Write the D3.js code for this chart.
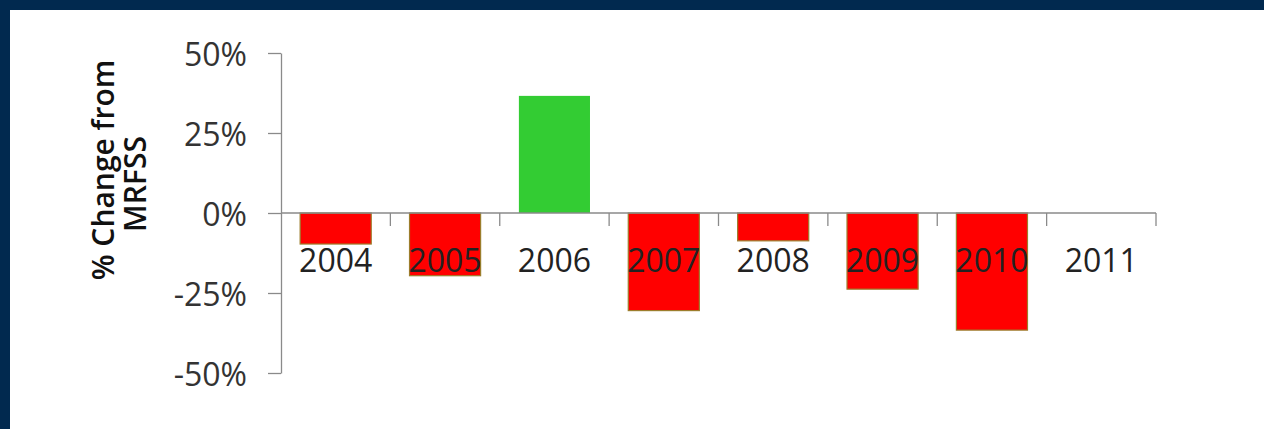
<!DOCTYPE html>
<html>
<head>
<meta charset="utf-8">
<script src="https://cdnjs.cloudflare.com/ajax/libs/d3/7.8.5/d3.min.js"></script>
<style>
  body { margin: 0; background: #fff; }
  svg { display: block; }
  .tickLabel { font-family: "Open Sans", sans-serif; font-size: 32px; fill: #222; }
</style>
</head>
<body>
<script>
// data
const years = ["2004", "2005", "2006", "2007", "2008", "2009", "2010", "2011"];
const changes = [-0.097, -0.196, 0.366, -0.305, -0.087, -0.238, -0.366, 0];
const yTicks = [-0.5, -0.25, 0, 0.25, 0.5];
const titleLines = ["% Change from", "MRFSS"];

const W = 1264, H = 429;

const svg = d3.select("body").append("svg")
  .attr("width", W)
  .attr("height", H);

// navy frame (top and left edges only)
svg.append("rect").attr("x", 0).attr("y", 0).attr("width", W).attr("height", 10).attr("fill", "#01294f");
svg.append("rect").attr("x", 0).attr("y", 0).attr("width", 10).attr("height", H).attr("fill", "#01294f");

//Scales
const x = d3.scaleBand()
  .domain(years)
  .range([281, 1156])
  .paddingInner(0.35)
  .paddingOuter(0.175);

const y = d3.scaleLinear()
  .domain([-0.5, 0.5])
  .range([373, 53]);

//bars
svg.append("g")
  .selectAll("rect")
  .data(years.map((yr, i) => ({year: yr, value: changes[i]})))
  .join("rect")
  .attr("x", d => x(d.year))
  .attr("width", x.bandwidth())
  .attr("y", d => y(Math.max(0, d.value)))
  .attr("height", d => Math.abs(y(d.value) - y(0)))
  .attr("fill", d => d.value > 0 ? "#33cc33" : "#ff0000")
  .attr("stroke", d => d.value > 0 ? "none" : "#9c7d2c")
  .attr("stroke-width", 1.2);

//y axis
const yAxis = svg.append("g")
  .attr("transform", "translate(281,0)")
  .call(d3.axisLeft(y)
    .tickValues(yTicks)
    .tickSize(13)
    .tickSizeOuter(0)
    .tickPadding(21)
    .tickFormat(d => Math.round(d * 100) + "%"));
yAxis.select(".domain").attr("stroke", "#8a8a8a").attr("stroke-width", 1.3);
yAxis.selectAll(".tick line").attr("stroke", "#8a8a8a").attr("stroke-width", 1.3);
yAxis.selectAll(".tick text")
  .attr("class", "tickLabel")
  .attr("dy", "0.38em")
  .style("fill", "#333");

//x axis line and category boundary ticks
const xAxisG = svg.append("g").attr("transform", "translate(0," + y(0) + ")");
xAxisG.append("line")
  .attr("x1", x.range()[0]).attr("x2", x.range()[1])
  .attr("stroke", "#8a8a8a").attr("stroke-width", 1.3);
xAxisG.selectAll(".bound")
  .data(years.slice(1).concat(["end"]))
  .join("line")
  .attr("class", "bound")
  .attr("x1", (d, i) => x.range()[0] + x.step() * (i + 1))
  .attr("x2", (d, i) => x.range()[0] + x.step() * (i + 1))
  .attr("y1", 0).attr("y2", 13)
  .attr("stroke", "#8a8a8a").attr("stroke-width", 1.3);

// category labels, drawn over the bars
const xLabels = svg.append("g")
  .attr("transform", "translate(0," + y(0) + ")")
  .call(d3.axisBottom(x).tickSize(0).tickPadding(36));
xLabels.select(".domain").remove();
xLabels.selectAll(".tick text").attr("class", "tickLabel");

//axis title
svg.selectAll(".ytitle")
  .data(titleLines)
  .join("text")
  .attr("class", "ytitle")
  .attr("transform", (d, i) => "translate(" + (114 + i * 32) + "," + (170 + i * 14) + ") rotate(-90)")
  .attr("text-anchor", "middle")
  .attr("font-family", "'Open Sans', sans-serif")
  .attr("font-weight", 600)
  .attr("font-size", 30)
  .attr("fill", "#111")
  .text(d => d);
</script>
</body>
</html>
